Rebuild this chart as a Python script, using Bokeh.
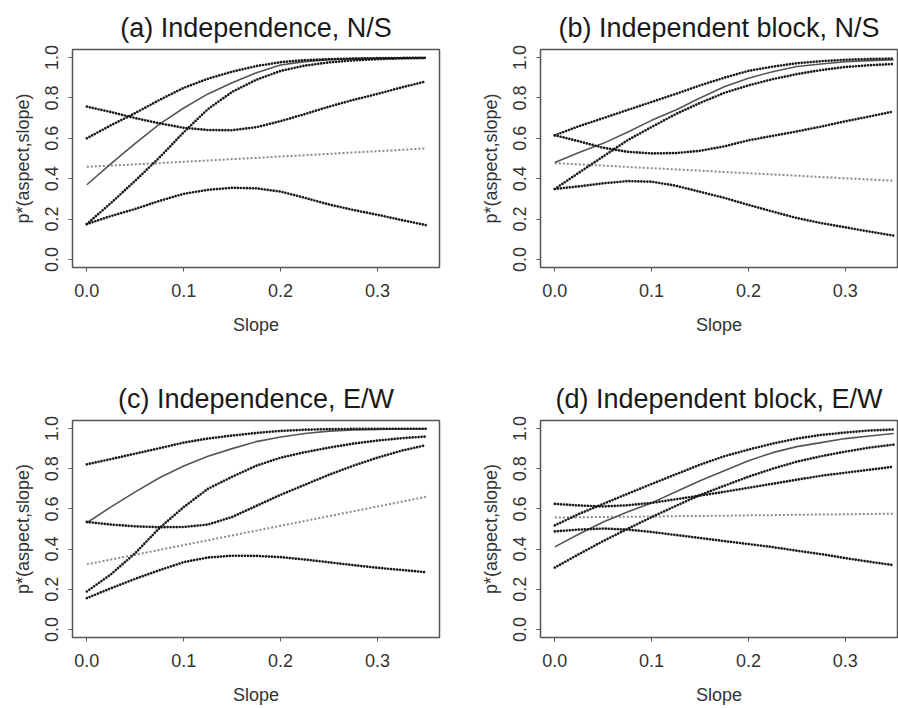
from bokeh.plotting import figure
from bokeh.layouts import column, row
from bokeh.models import Range1d, FixedTicker, PrintfTickFormatter
from bokeh.embed import file_html
from bokeh.resources import INLINE

# ---------------- data ----------------
slope = [0.0, 0.025, 0.05, 0.075, 0.1, 0.125, 0.15, 0.175, 0.2, 0.225, 0.25, 0.275, 0.3, 0.325, 0.35]

# (a) Independence, N/S
a_dot1 = [0.600, 0.665, 0.725, 0.790, 0.850, 0.895, 0.930, 0.958, 0.977, 0.987, 0.992, 0.995, 0.997, 0.998, 0.999]
a_solid = [0.370, 0.475, 0.575, 0.670, 0.750, 0.820, 0.875, 0.925, 0.963, 0.980, 0.990, 0.995, 0.997, 0.998, 0.999]
a_dot2 = [0.175, 0.280, 0.390, 0.505, 0.630, 0.745, 0.830, 0.890, 0.934, 0.960, 0.976, 0.986, 0.992, 0.996, 0.998]
a_dot3 = [0.757, 0.730, 0.700, 0.674, 0.652, 0.641, 0.640, 0.655, 0.685, 0.720, 0.757, 0.790, 0.820, 0.852, 0.882]
a_gray = [0.459, 0.465, 0.471, 0.477, 0.484, 0.490, 0.497, 0.503, 0.510, 0.516, 0.523, 0.530, 0.536, 0.543, 0.550]
a_dot4 = [0.175, 0.215, 0.250, 0.290, 0.325, 0.345, 0.355, 0.352, 0.336, 0.305, 0.272, 0.245, 0.221, 0.195, 0.170]

# (b) Independent block, N/S
b_dot1 = [0.615, 0.660, 0.700, 0.740, 0.780, 0.820, 0.862, 0.900, 0.934, 0.955, 0.972, 0.982, 0.989, 0.993, 0.995]
b_solid = [0.480, 0.530, 0.575, 0.630, 0.689, 0.740, 0.800, 0.855, 0.898, 0.930, 0.956, 0.968, 0.979, 0.985, 0.989]
b_dot2 = [0.349, 0.430, 0.510, 0.590, 0.656, 0.720, 0.775, 0.825, 0.862, 0.893, 0.918, 0.938, 0.953, 0.962, 0.968]
b_dot3 = [0.615, 0.585, 0.553, 0.533, 0.525, 0.527, 0.538, 0.560, 0.590, 0.612, 0.634, 0.658, 0.684, 0.708, 0.733]
b_gray = [0.477, 0.471, 0.465, 0.458, 0.452, 0.446, 0.440, 0.433, 0.427, 0.421, 0.415, 0.408, 0.402, 0.396, 0.390]
b_dot4 = [0.349, 0.362, 0.377, 0.388, 0.385, 0.365, 0.335, 0.305, 0.270, 0.237, 0.205, 0.180, 0.159, 0.138, 0.118]

# (c) Independence, E/W
c_dot1 = [0.822, 0.848, 0.875, 0.902, 0.930, 0.950, 0.965, 0.978, 0.988, 0.994, 0.997, 0.998, 0.999, 0.999, 0.999]
c_solid = [0.531, 0.610, 0.685, 0.755, 0.814, 0.862, 0.900, 0.935, 0.958, 0.975, 0.987, 0.993, 0.996, 0.998, 0.999]
c_dot2 = [0.189, 0.275, 0.380, 0.505, 0.609, 0.700, 0.760, 0.815, 0.855, 0.882, 0.905, 0.925, 0.940, 0.952, 0.960]
c_dot3 = [0.535, 0.522, 0.513, 0.509, 0.510, 0.522, 0.560, 0.615, 0.670, 0.720, 0.770, 0.815, 0.855, 0.890, 0.917]
c_gray = [0.324, 0.348, 0.372, 0.396, 0.420, 0.444, 0.468, 0.492, 0.516, 0.540, 0.564, 0.588, 0.612, 0.636, 0.660]
c_dot4 = [0.156, 0.205, 0.252, 0.295, 0.335, 0.358, 0.367, 0.366, 0.360, 0.348, 0.334, 0.320, 0.307, 0.296, 0.285]

# (d) Independent block, E/W
d_dot1 = [0.518, 0.575, 0.625, 0.675, 0.724, 0.772, 0.820, 0.862, 0.895, 0.925, 0.950, 0.968, 0.980, 0.990, 0.995]
d_solid = [0.411, 0.475, 0.535, 0.585, 0.630, 0.685, 0.740, 0.790, 0.840, 0.880, 0.910, 0.930, 0.950, 0.963, 0.975]
d_dot2 = [0.308, 0.375, 0.440, 0.500, 0.559, 0.615, 0.669, 0.715, 0.760, 0.800, 0.835, 0.862, 0.885, 0.905, 0.920]
d_dot3 = [0.625, 0.617, 0.612, 0.618, 0.630, 0.648, 0.666, 0.685, 0.705, 0.725, 0.745, 0.765, 0.780, 0.795, 0.810]
d_gray = [0.557, 0.558, 0.560, 0.561, 0.562, 0.564, 0.565, 0.566, 0.568, 0.569, 0.571, 0.572, 0.573, 0.575, 0.576]
d_dot4 = [0.488, 0.497, 0.502, 0.497, 0.485, 0.470, 0.455, 0.440, 0.425, 0.410, 0.392, 0.375, 0.355, 0.337, 0.320]

titles = ["(a) Independence, N/S", "(b) Independent block, N/S",
          "(c) Independence, E/W", "(d) Independent block, E/W"]
x_ticks = [0.0, 0.1, 0.2, 0.3]
y_ticks = [0.0, 0.2, 0.4, 0.6, 0.8, 1.0]
x_label = "Slope"
y_label = "p*(aspect,slope)"

FONT = "Liberation Sans"


def make_panel(title, dots, solid, gray, width, height, bl, br, bt, bb, xmax):
    p = figure(width=width, height=height, output_backend="svg", toolbar_location=None,
               x_range=Range1d(-0.0148, xmax), y_range=Range1d(-0.04, 1.04),
               min_border_left=bl, min_border_right=br, min_border_top=bt, min_border_bottom=bb)
    p.title.text = title
    p.title.align = "center"
    p.title.vertical_align = "top"
    p.title.text_font = FONT
    p.title.text_font_size = "27px"
    p.title.text_font_style = "normal"
    p.title.text_color = "#1a1a1a"
    p.title.standoff = 10
    p.grid.visible = False
    p.outline_line_color = "#555555"
    p.outline_line_width = 1.5
    p.background_fill_color = "white"
    p.border_fill_color = "white"

    for ax in (p.xaxis[0], p.yaxis[0]):
        ax.axis_line_color = None
        ax.major_tick_line_color = "#555555"
        ax.major_tick_line_width = 1
        ax.major_tick_out = 4
        ax.major_tick_in = 0
        ax.minor_tick_line_color = None
        ax.major_label_text_font = FONT
        ax.major_label_text_font_size = "18px"
        ax.major_label_text_color = "#333333"
        ax.axis_label_text_font = FONT
        ax.axis_label_text_font_size = "18px"
        ax.axis_label_text_font_style = "normal"
        ax.axis_label_text_color = "#333333"
        ax.formatter = PrintfTickFormatter(format="%.1f")
    p.xaxis[0].ticker = FixedTicker(ticks=x_ticks)
    p.yaxis[0].ticker = FixedTicker(ticks=y_ticks)
    p.xaxis[0].axis_label = x_label
    p.yaxis[0].axis_label = y_label
    p.xaxis[0].major_label_standoff = 12
    p.xaxis[0].axis_label_standoff = 15
    p.yaxis[0].major_label_orientation = "vertical"
    p.yaxis[0].major_label_standoff = 10
    p.yaxis[0].axis_label_standoff = 10

    p.line(slope, gray, line_color="#8a8a8a", line_width=2, line_dash="2 2")
    p.line(slope, solid, line_color="#555555", line_width=1.6)
    for d in dots:
        p.line(slope, d, line_color="#1a1a1a", line_width=2.7, line_dash="0 3",
               line_cap="round")
    return p


pa = make_panel(titles[0], [a_dot1, a_dot2, a_dot3, a_dot4], a_solid, a_gray, 449, 372, 72, 10, 49, 105, 0.364)
pb = make_panel(titles[1], [b_dot1, b_dot2, b_dot3, b_dot4], b_solid, b_gray, 449, 372, 91, 1, 49, 105, 0.354)
pc = make_panel(titles[2], [c_dot1, c_dot2, c_dot3, c_dot4], c_solid, c_gray, 449, 336, 72, 10, 48, 71, 0.364)
pd = make_panel(titles[3], [d_dot1, d_dot2, d_dot3, d_dot4], d_solid, d_gray, 449, 336, 91, 1, 48, 71, 0.354)

layout = column(row(pa, pb), row(pc, pd))

open("out.html", "w").write(file_html(layout, INLINE))
